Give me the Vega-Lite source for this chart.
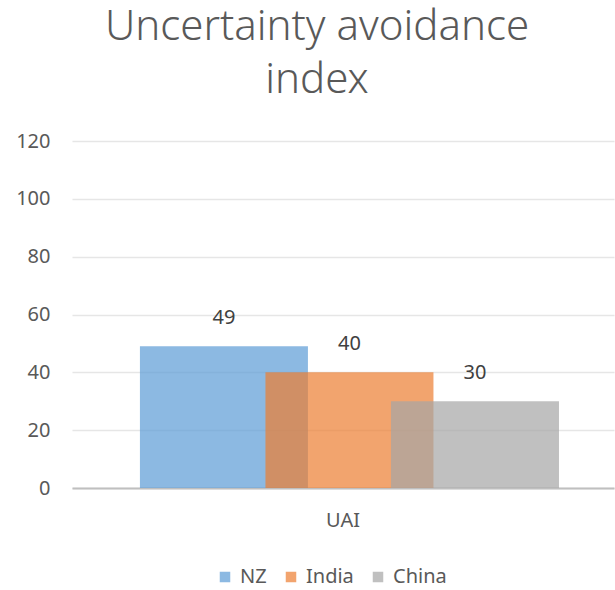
{
  "$schema": "https://vega.github.io/schema/vega-lite/v6.json",
  "autosize": "none",
  "width": 542,
  "height": 347,
  "padding": {"left": 72, "top": 141, "right": 1, "bottom": 102},
  "background": "white",
  "title": {
    "text": ["Uncertainty avoidance", "index"],
    "font": "Noto Sans",
    "fontSize": 42,
    "fontWeight": 300,
    "color": "#595959",
    "lineHeight": 53,
    "anchor": "middle",
    "dx": -26,
    "offset": 29
  },
  "data": {
    "values": [
      {"cat": "UAI", "country": "NZ", "value": 49},
      {"cat": "UAI", "country": "India", "value": 40},
      {"cat": "UAI", "country": "China", "value": 30}
    ]
  },
  "encoding": {
    "x": {
      "field": "cat",
      "type": "nominal",
      "scale": {"paddingInner": 0, "paddingOuter": 0},
      "axis": {
        "title": null,
        "labelAngle": 0,
        "labelFont": "Noto Sans",
        "labelFontSize": 20,
        "labelColor": "#595959",
        "labelPadding": 22,
        "ticks": false,
        "domainColor": "#bfbfbf",
        "domainWidth": 2
      }
    },
    "xOffset": {
      "field": "country",
      "type": "nominal",
      "sort": ["NZ", "India", "China"],
      "scale": {"paddingInner": 0, "paddingOuter": 0.659, "align": 0.539}
    },
    "y": {
      "field": "value",
      "type": "quantitative",
      "scale": {"domain": [0, 120]},
      "axis": {
        "title": null,
        "values": [0, 20, 40, 60, 80, 100, 120],
        "domain": false,
        "ticks": false,
        "labelFont": "Noto Sans",
        "labelFontSize": 20,
        "labelColor": "#595959",
        "labelPadding": 22,
        "gridColor": "#e6e6e6",
        "gridWidth": 1.5
      }
    }
  },
  "layer": [
    {
      "mark": {"type": "bar", "opacity": 0.7, "width": 168},
      "encoding": {
        "color": {
          "field": "country",
          "type": "nominal",
          "sort": ["NZ", "India", "China"],
          "scale": {"domain": ["NZ", "India", "China"], "range": ["#5B9BD5", "#ED7D31", "#A5A5A5"]},
          "legend": {
            "title": null,
            "orient": "none",
            "legendX": 143,
            "legendY": 426,
            "direction": "horizontal",
            "symbolType": "square",
            "symbolSize": 110,
            "symbolOpacity": 0.7,
            "symbolStrokeWidth": 0,
            "labelFont": "Noto Sans",
            "labelFontSize": 20,
            "labelColor": "#595959",
            "labelOffset": 5,
            "columnPadding": 14
          }
        }
      }
    },
    {
      "mark": {"type": "text", "baseline": "bottom", "dy": -18, "font": "Noto Sans", "fontSize": 20, "color": "#404040"},
      "encoding": {
        "text": {"field": "value", "type": "quantitative"}
      }
    }
  ],
  "config": {"view": {"stroke": null}}
}
